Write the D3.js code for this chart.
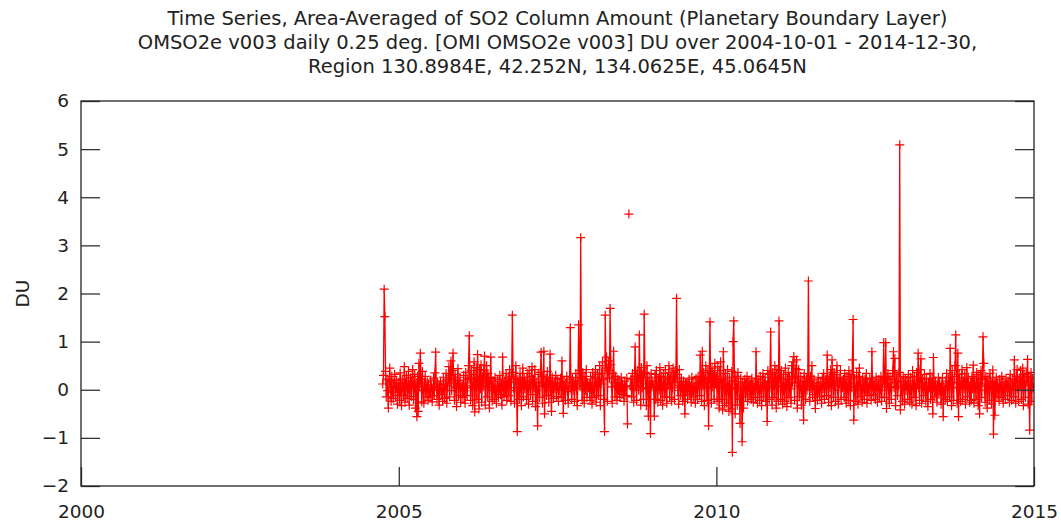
<!DOCTYPE html>
<html>
<head>
<meta charset="utf-8">
<script src="https://cdn.jsdelivr.net/npm/d3@7"></script>
<style>
  body { margin: 0; background: #fff; }
  svg text { font-family: "DejaVu Sans", sans-serif; fill: #222; }
</style>
</head>
<body>
<div class="chart"></div>
<script>
// title lines
var titleLines = [
  "Time Series, Area-Averaged of SO2 Column Amount (Planetary Boundary Layer)",
  "OMSO2e v003 daily 0.25 deg. [OMI OMSO2e v003] DU over 2004-10-01 - 2014-12-30,",
  "Region 130.8984E, 42.252N, 134.0625E, 45.0645N"
];
var yLabel = "DU";
var xTickYears = [2000, 2005, 2010, 2015];
var yTickValues = [-2, -1, 0, 1, 2, 3, 4, 5, 6];

// SO2 values (DU), one value every 4 days
// 2004 starts on Oct 1, every other year on Jan 1. null = no data
var so2_2004 = [0.12, 0.30, 2.09, 1.52, 0.38, -0.15, 0.22, -0.02, -0.38, 0.18, 0.45, 0.05, -0.24, 0.28, -0.05, -0.18, 0.14, 0.32, -0.12, 0.08, 0.20, -0.30, 0.03];
var so2_2005 = [0.15, -0.22, 0.35, -0.02, -0.33, 0.22, 0.05, -0.12, 0.48, -0.26,
  0.12, 0.30, -0.18, 0.02, 0.38, -0.32, 0.08, 0.25, -0.14, 0.18,
  0.42, -0.20, 0.04, 0.32, -0.38, 0.14, -0.56, 0.28, -0.45, 0.55,
  0.06, 0.76, 0.22, -0.25, 0.38, -0.02, -0.28, 0.12, 0.28, -0.15,
  0.02, 0.16, -0.22, 0.10, -0.04, -0.16, 0.20, 0.04, -0.25, -0.01,
  0.24, -0.12, 0.35, 0.78, 0.06, -0.20, 0.14, 0.00, -0.32, 0.10,
  0.18, -0.10, 0.04, -0.24, 0.26, 0.02, -0.18, 0.12, 0.34, -0.28,
  0.08, 0.22, 0.48, -0.15, 0.30, 0.60, -0.02, 0.40, 0.76, 0.14,
  -0.22, 0.32, 0.04, -0.35, 0.20, 0.44, -0.12, 0.10, 0.26, -0.26, 0.06];
var so2_2006 = [0.12, -0.16, 0.30, -0.02, -0.28, 0.36, 0.04, -0.12, 0.22, 0.50,
  1.12, 0.24, -0.22, 0.40, 0.08, -0.33, 0.32, 0.58, -0.46, 0.14,
  0.46, -0.20, 0.73, 0.18, -0.40, 0.42, 0.02, 0.52, -0.26, 0.28,
  0.06, 0.40, 0.70, -0.32, 0.16, 0.50, -0.15, 0.34, 0.12, -0.38,
  0.24, 0.68, -0.02, -0.24, 0.18, 0.04, -0.20, 0.26, -0.04, -0.28,
  0.08, 0.22, -0.16, 0.02, 0.30, -0.10, 0.14, -0.32, 0.68, 0.06,
  -0.15, 0.18, -0.01, 0.34, -0.22, 0.08, 0.24, -0.12, 0.42, 0.16,
  -0.24, 0.28, 1.55, 0.36, 0.04, -0.28, 0.24, 0.50, -0.02, -0.87,
  0.22, 0.12, -0.20, 0.34, 0.06, -0.33, 0.18, 0.45, -0.15, 0.26, 0.02];
var so2_2007 = [0.18, -0.20, 0.34, 0.02, -0.30, 0.40, 0.08, -0.10, 0.28, 0.48,
  -0.24, 0.22, 0.04, 0.42, -0.35, 0.16, -0.01, -0.75, 0.32, 0.08,
  -0.16, 0.36, 0.78, 0.14, -0.28, 0.28, 0.80, -0.50, 0.06, 0.24,
  -0.12, 0.38, 0.12, -0.26, 0.18, 0.74, -0.02, -0.45, 0.26, 0.04,
  -0.18, 0.15, 0.02, 0.30, -0.14, 0.08, 0.22, -0.24, -0.01, 0.12,
  0.24, -0.16, 0.60, 0.04, -0.49, 0.18, 0.02, -0.22, 0.14, 0.28,
  -0.04, -0.28, 0.08, 0.22, 1.29, 0.04, -0.20, 0.26, -0.01, 0.16,
  -0.24, 0.12, 0.34, 0.02, -0.33, 0.18, 1.35, 0.40, 0.06, 3.16,
  0.24, -0.22, 0.36, 0.08, -0.28, 0.28, -0.01, 0.42, -0.16, 0.15, 0.04];
var so2_2008 = [0.14, -0.22, 0.28, 0.04, -0.30, 0.36, -0.01, -0.16, 0.24, 0.42,
  -0.26, 0.08, 0.32, -0.12, 0.18, 0.50, -0.33, 0.12, 0.34, 0.58,
  0.22, -0.20, -0.87, 1.55, 0.45, 0.68, -0.24, 0.40, 0.60, 0.24,
  1.69, 0.52, 0.06, -0.28, 0.34, 0.80, 0.14, -0.15, 0.28, 0.08,
  -0.22, 0.22, -0.01, 0.16, -0.16, 0.04, 0.26, -0.10, 0.12, 0.02,
  -0.24, 0.18, 0.06, -0.12, 0.24, -0.71, null, 3.65, null, 0.08,
  0.22, -0.15, 0.34, 0.02, -0.26, 0.28, 0.89, 0.08, -0.22, 0.40,
  0.16, -0.01, 1.14, 0.24, -0.32, 0.46, 0.04, 0.32, -0.20, 1.57,
  0.36, 0.12, -0.33, 0.50, 0.02, -0.55, 0.26, 0.14, -0.91, 0.34, 0.06];
var so2_2009 = [0.18, 0.04, -0.55, 0.32, -0.20, 0.40, 0.06, -0.26, 0.24, -0.01,
  0.46, -0.22, 0.28, 0.08, -0.32, 0.34, 0.14, -0.15, 0.42, 0.02,
  -0.28, 0.26, 0.12, 0.50, -0.16, 0.22, 0.36, -0.24, 0.04, 0.45,
  0.28, -0.20, 0.40, 0.16, 1.90, 0.32, -0.01, -0.30, 0.42, 0.08,
  -0.12, 0.24, 0.06, -0.24, 0.18, 0.02, -0.50, 0.12, -0.04, 0.16,
  -0.20, 0.04, 0.22, -0.10, 0.08, -0.26, 0.26, -0.01, -0.15, 0.14,
  0.06, -0.28, 0.24, 0.02, -0.20, 0.28, 0.12, -0.12, 0.72, 0.18,
  -0.24, 0.80, 0.08, 0.36, -0.33, 0.22, 0.50, 0.04, -0.22, 0.40,
  -0.75, 0.24, 1.41, 0.14, -0.28, 0.45, 0.06, 0.32, -0.20, 0.55, 0.16];
var so2_2010 = [0.28, -0.24, 0.48, 0.04, -0.38, 0.40, 0.58, -0.20, 0.22, -0.42,
  0.79, 0.14, -0.33, 0.34, -0.01, -0.28, 0.42, 0.08, -0.45, 0.26,
  0.02, -0.40, 0.38, -1.30, 1.00, 1.43, 0.18, -0.50, 0.28, 0.04,
  -0.32, 0.36, 0.12, -0.20, -0.70, 0.24, -0.01, -1.08, 0.16, -0.38,
  0.08, 0.22, -0.15, 0.02, 0.28, -0.24, 0.06, 0.18, -0.10, 0.12,
  -0.20, 0.24, -0.01, -0.26, 0.14, 0.04, -0.16, 0.79, 0.08, -0.28,
  0.22, 0.02, -0.22, 0.28, 0.06, -0.33, 0.16, 0.34, -0.15, 0.12,
  0.26, -0.24, 0.08, -0.66, 0.40, 0.18, -0.20, 0.32, 1.20, 0.04,
  -0.32, 0.36, 0.14, -0.16, 0.50, 0.24, -0.38, 0.42, 0.08, -0.24, 1.43];
var so2_2011 = [0.24, -0.20, 0.40, 0.06, -0.30, 0.32, -0.01, -0.24, 0.45, 0.12,
  -0.35, 0.22, 0.36, -0.16, 0.28, 0.02, -0.28, 0.50, 0.14, 0.58,
  0.69, -0.22, 0.24, 0.44, 0.62, -0.38, 0.16, 0.42, -0.15, 0.08,
  0.28, -0.32, 0.04, 0.18, -0.63, 0.34, 0.06, -0.20, 0.24, -0.01,
  0.12, 2.26, 0.16, -0.24, 0.28, 0.02, 0.50, -0.16, 0.08, 0.22,
  -0.10, -0.39, 0.14, 0.04, -0.22, 0.26, -0.01, -0.15, 0.16, 0.08,
  -0.28, 0.24, 0.02, 0.34, -0.20, 0.12, 0.22, -0.12, 0.72, 0.14,
  -0.26, 0.28, 0.04, 0.42, -0.33, 0.62, 0.18, -0.16, 0.36, 0.08,
  -0.24, 0.32, 0.50, -0.01, -0.30, 0.24, 0.12, 0.40, -0.20, 0.18, 0.04];
var so2_2012 = [0.22, -0.16, 0.34, 0.08, -0.28, 0.28, 0.02, -0.22, 0.40, 0.14,
  -0.33, 0.32, 0.04, 0.62, 1.46, -0.63, 0.24, -0.01, -0.24, 0.36,
  0.08, -0.30, 0.28, 0.45, -0.15, 0.18, 0.02, -0.26, 0.26, 0.06,
  -0.20, 0.22, -0.01, 0.34, -0.28, 0.12, 0.04, -0.12, 0.24, 0.16,
  -0.22, 0.79, 0.06, -0.10, 0.18, 0.02, -0.20, 0.26, 0.12, -0.26,
  0.08, 0.22, -0.15, -0.01, 0.28, -0.24, 0.06, 0.18, 0.98, -0.16,
  0.24, 0.98, -0.39, 0.12, 0.34, -0.01, -0.28, 0.28, 0.06, -0.20,
  0.22, 0.40, 0.79, 0.04, 0.65, -0.33, 0.16, 0.32, -0.12, 0.08,
  0.36, 5.09, -0.42, 0.18, 0.04, -0.24, 0.28, 0.12, -0.30, 0.24, -0.01];
var so2_2013 = [0.18, -0.20, 0.32, 0.04, -0.26, 0.26, -0.01, -0.30, 0.40, 0.12,
  -0.16, 0.28, 0.02, -0.33, 0.36, 0.14, 0.76, 0.04, -0.22, 0.42,
  0.64, -0.28, 0.24, 0.06, -0.12, 0.32, 0.08, -0.24, 0.22, -0.01,
  -0.35, 0.16, 0.04, 0.34, -0.20, 0.12, 0.24, -0.50, 0.67, 0.06,
  -0.15, 0.18, 0.02, -0.26, 0.08, 0.26, -0.10, 0.14, 0.04, -0.30,
  0.12, 0.24, -0.56, 0.06, -0.01, -0.20, 0.18, 0.34, -0.24, 0.08,
  0.26, -0.15, 0.86, 0.16, -0.33, 0.40, 0.04, -0.22, 0.28, 0.50,
  1.14, 0.14, -0.28, 0.76, -0.56, 0.32, 0.06, -0.24, 0.24, 0.42,
  -0.20, 0.18, 0.02, 0.34, -0.30, 0.12, 0.46, -0.15, 0.24, 0.08, -0.26];
var so2_2014 = [0.16, -0.22, 0.28, 0.02, 0.51, -0.28, 0.24, 0.06, -0.20, 0.36,
  0.14, -0.33, 0.32, -0.50, 0.08, 0.40, -0.16, 0.22, 1.10, 0.55,
  -0.01, -0.26, 0.28, 0.12, -0.38, 0.24, 0.04, -0.22, 0.34, 0.16,
  -0.30, 0.08, 0.41, -0.92, 0.18, -0.53, 0.06, 0.26, -0.15, 0.14,
  0.02, -0.24, 0.22, 0.08, -0.16, 0.28, -0.01, -0.28, 0.16, 0.04,
  -0.20, 0.24, 0.12, -0.12, 0.18, 0.06, -0.26, 0.32, -0.01, -0.22,
  0.22, 0.08, -0.15, 0.62, 0.14, -0.28, 0.28, 0.42, 0.02, -0.24,
  0.24, 0.06, 0.40, -0.20, 0.18, 0.45, -0.33, 0.32, 0.12, -0.16,
  0.34, 0.16, 0.63, -0.30, 0.28, -0.84, 0.08, 0.36, -0.24, 0.24, 0.04];

var yearBlocks = [
  { start: "2004-10-01", vals: so2_2004 },
  { start: "2005-01-01", vals: so2_2005 },
  { start: "2006-01-01", vals: so2_2006 },
  { start: "2007-01-01", vals: so2_2007 },
  { start: "2008-01-01", vals: so2_2008 },
  { start: "2009-01-01", vals: so2_2009 },
  { start: "2010-01-01", vals: so2_2010 },
  { start: "2011-01-01", vals: so2_2011 },
  { start: "2012-01-01", vals: so2_2012 },
  { start: "2013-01-01", vals: so2_2013 },
  { start: "2014-01-01", vals: so2_2014 }
];
var stepDays = 4;

var parse = d3.utcParse("%Y-%m-%d");
var data = [];
yearBlocks.forEach(function (b) {
  var t0 = parse(b.start);
  b.vals.forEach(function (v, i) {
    data.push({ date: d3.utcDay.offset(t0, i * stepDays), v: v });
  });
});

// svg container
var svgWidth = 1061, svgHeight = 523;
var margin = { top: 101, right: 27, bottom: 37, left: 81 };
var chartWidth = svgWidth - margin.left - margin.right;
var chartHeight = svgHeight - margin.top - margin.bottom;

var svg = d3.select(".chart").append("svg")
  .attr("width", svgWidth)
  .attr("height", svgHeight);

var chartGroup = svg.append("g")
  .attr("transform", `translate(${margin.left}, ${margin.top})`);

var x = d3.scaleUtc()
  .domain([Date.UTC(2000, 0, 1), Date.UTC(2015, 0, 1)])
  .range([0, chartWidth]);
var y = d3.scaleLinear()
  .domain([-2, 6])
  .range([chartHeight, 0]);

// titles
svg.selectAll(".title")
  .data(titleLines)
  .enter().append("text")
  .attr("class", "title")
  .attr("x", margin.left + chartWidth / 2)
  .attr("y", (d, i) => 25 + i * 24)
  .attr("text-anchor", "middle")
  .style("font-size", "19.5px")
  .text(d => d);

// clip
svg.append("clipPath").attr("id", "plotclip")
  .append("rect").attr("width", chartWidth).attr("height", chartHeight);

var plot = chartGroup.append("g").attr("clip-path", "url(#plotclip)");

var line = d3.line()
  .defined(d => d.v != null)
  .x(d => x(d.date))
  .y(d => y(d.v));

plot.append("path")
  .datum(data)
  .attr("d", line)
  .attr("fill", "none")
  .attr("stroke", "#ff0000")
  .attr("stroke-width", 1.3);

// "+" markers
var ms = 4.5;
var plusPath = d3.path();
data.filter(d => d.v != null).forEach(function (d) {
  var px = x(d.date), py = y(d.v);
  plusPath.moveTo(px - ms, py); plusPath.lineTo(px + ms, py);
  plusPath.moveTo(px, py - ms); plusPath.lineTo(px, py + ms);
});
plot.append("path")
  .attr("d", plusPath.toString())
  .attr("fill", "none")
  .attr("stroke", "#ff0000")
  .attr("stroke-width", 1.2);

// axes (gnuplot style: ticks pointing inward)
var tickLen = 19;
var bottomAxis = d3.axisBottom(x)
  .tickValues(xTickYears.map(yr => new Date(Date.UTC(yr, 0, 1))))
  .tickFormat(d3.utcFormat("%Y"))
  .tickSizeInner(-tickLen).tickSizeOuter(0).tickPadding(19);
var leftAxis = d3.axisLeft(y)
  .tickValues(yTickValues)
  .tickFormat(d3.format("d"))
  .tickSizeInner(-tickLen).tickSizeOuter(0).tickPadding(12);
var rightAxis = d3.axisRight(y)
  .tickValues(yTickValues)
  .tickFormat("")
  .tickSizeInner(-tickLen).tickSizeOuter(0);

var gx = chartGroup.append("g")
  .attr("transform", `translate(0, ${chartHeight})`)
  .call(bottomAxis);
var gy = chartGroup.append("g").call(leftAxis);
var gr = chartGroup.append("g")
  .attr("transform", `translate(${chartWidth}, 0)`)
  .call(rightAxis);

[gx, gy, gr].forEach(function (g) {
  g.select(".domain").remove();
  g.selectAll("line").attr("stroke", "#333").attr("stroke-width", 1.3);
  g.selectAll("text").style("font-size", "18.5px").attr("fill", "#222")
    .style("font-family", "DejaVu Sans, sans-serif");
});

// frame
chartGroup.append("rect")
  .attr("width", chartWidth).attr("height", chartHeight)
  .attr("fill", "none").attr("stroke", "#222").attr("stroke-width", 1.3);

// y label
chartGroup.append("text")
  .attr("transform", "rotate(-90)")
  .attr("x", -y(2))
  .attr("y", -margin.left + 29)
  .attr("text-anchor", "middle")
  .style("font-size", "18.5px")
  .text(yLabel);
</script>
</body>
</html>
